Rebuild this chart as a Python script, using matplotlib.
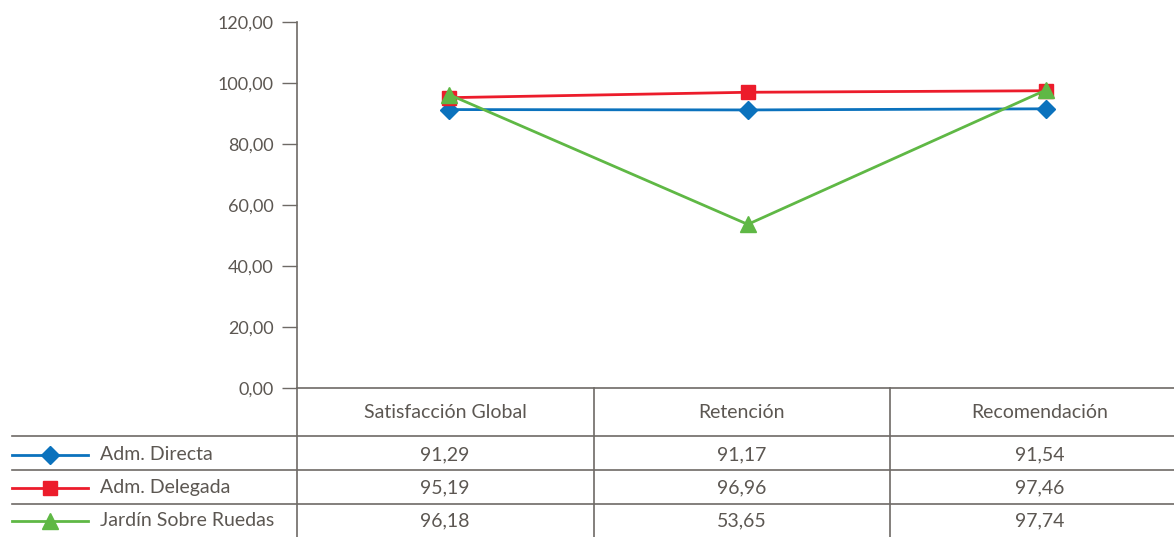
import matplotlib
matplotlib.use("Agg")
import matplotlib.pyplot as plt
from matplotlib.lines import Line2D

plt.rcParams['font.family'] = ['Lato', 'DejaVu Sans']

categories = ["Satisfacción Global", "Retención", "Recomendación"]
series_names = ["Adm. Directa", "Adm. Delegada", "Jardín Sobre Ruedas"]
adm_directa = [91.29, 91.17, 91.54]
adm_delegada = [95.19, 96.96, 97.46]
jardin_ruedas = [96.18, 53.65, 97.74]
y_ticks = [0, 20, 40, 60, 80, 100, 120]

series = [adm_directa, adm_delegada, jardin_ruedas]
colors = ["#0b72bd", "#ec1c2b", "#5fb845"]
markers = ["D", "s", "^"]
msizes = [9, 9.5, 11.5]

TEXT = "#5c5752"
RULE = "#6e6a66"
FS = 14

W, H = 1174, 537
fig = plt.figure(figsize=(W / 100, H / 100), dpi=100)


def fx(px):
    return px / W


def fy(py):
    return 1 - py / H


# plot area: left spine at x=297, zero at y=388, 120 at y=22
ax = fig.add_axes([fx(297), fy(388), fx(W - 297), fy(22) - fy(388)])
step = 298.5
x_min = -0.51
ax.set_xlim(x_min, x_min + (W - 297) / step)
ax.set_ylim(0, 120)

xs = range(len(categories))
for vals, c, m, ms in zip(series, colors, markers, msizes):
    ax.plot(xs, vals, color=c, lw=2, marker=m, ms=ms, mec=c, mfc=c,
            clip_on=False, zorder=3)

ax.set_yticks(y_ticks)
ax.set_yticklabels([f"{v:.2f}".replace(".", ",") for v in y_ticks],
                   fontsize=13, color=TEXT)
ax.tick_params(axis='y', length=11, width=1, color=RULE, pad=6)
ax.set_xticks([])
for side in ("top", "right"):
    ax.spines[side].set_visible(False)
for side in ("left", "bottom"):
    ax.spines[side].set_color(RULE)
    ax.spines[side].set_linewidth(1.2)

# data table underneath
row_lines = [436, 470, 504]
row_mid = [455, 488, 521]
col_edges = [297, 594, 890]
col_mid = [445, 742, 1040]

for y in row_lines:
    fig.add_artist(Line2D([fx(12), 1], [fy(y), fy(y)], color=RULE, lw=1.2))
for x in col_edges:
    fig.add_artist(Line2D([fx(x), fx(x)], [fy(388), 0], color=RULE, lw=1.2))

for cx, name in zip(col_mid, categories):
    fig.text(fx(cx), fy(413), name, ha="center", va="center",
             fontsize=FS, color=TEXT)

for r, (name, vals, c, m, ms) in enumerate(zip(series_names, series, colors,
                                                markers, msizes)):
    y = fy(row_mid[r])
    fig.add_artist(Line2D([fx(12), fx(88)], [y, y], color=c, lw=2))
    fig.add_artist(Line2D([fx(50)], [y], color=c, marker=m, ms=ms,
                          mec=c, mfc=c))
    fig.text(fx(100), y, name, ha="left", va="center", fontsize=FS,
             color=TEXT)
    for cx, v in zip(col_mid, vals):
        fig.text(fx(cx), y, f"{v:.2f}".replace(".", ","), ha="center",
                 va="center", fontsize=FS, color=TEXT)

fig.savefig("out.png", dpi=100)
